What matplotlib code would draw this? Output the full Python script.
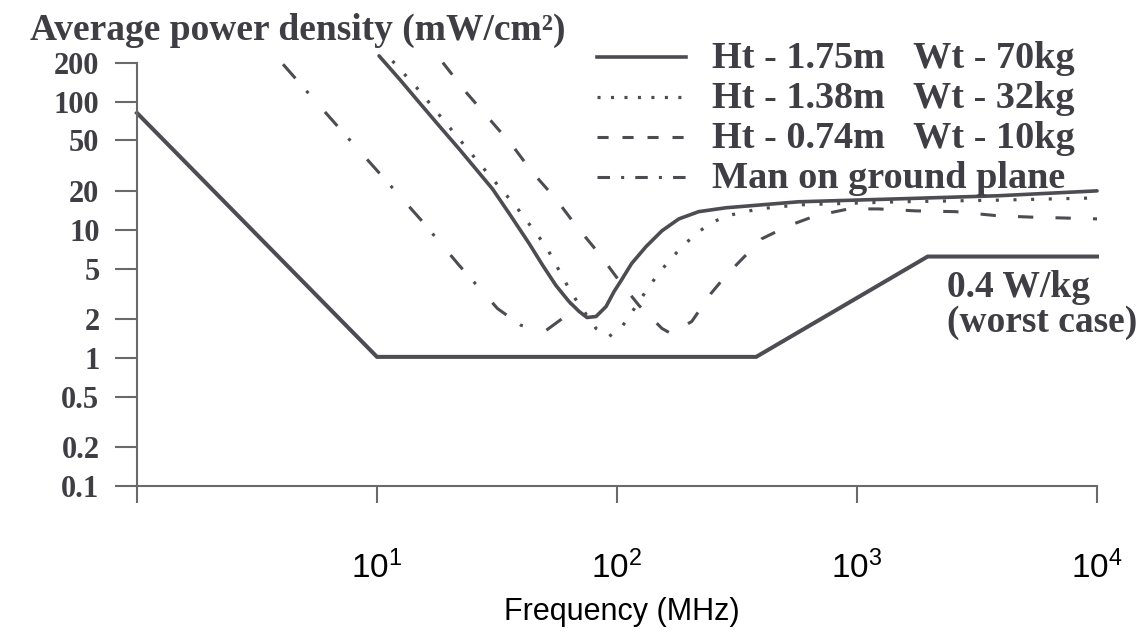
import matplotlib
matplotlib.use('Agg')
import matplotlib.pyplot as plt
from matplotlib.lines import Line2D
from matplotlib.ticker import NullLocator, FixedLocator, FixedFormatter

plt.rcParams['lines.scale_dashes'] = False
plt.rcParams['mathtext.fontset'] = 'custom'
plt.rcParams['mathtext.rm'] = 'Liberation Sans'
plt.rcParams['mathtext.it'] = 'Liberation Sans:italic'
plt.rcParams['mathtext.bf'] = 'Liberation Sans:bold'

# ---------------- data (frequency in MHz, power density in mW/cm^2) -------------
ref_f = [1, 10, 380, 1970, 10000]
ref_v = [82, 1.02, 1.02, 6.2, 6.2]

solid_f = [10.2, 12.4, 15.0, 18.2, 22.0, 30.3, 35.6, 43.1, 49.0, 55.7, 63.1, 69.5,
           75.0, 81.8, 90.0, 97.2, 104, 115, 132, 154, 181, 219, 284, 571, 1490,
           3870, 10000]
solid_v = [229, 151, 99, 64.7, 42.9, 20.9, 13.4, 7.81, 5.3, 3.68, 2.76, 2.31,
           2.07, 2.11, 2.52, 3.30, 4.02, 5.46, 7.40, 9.86, 12.2, 13.9, 14.9, 16.6,
           17.5, 18.5, 20.2]

dotted_f = [11.6, 14.6, 20.0, 27.5, 38.0, 50.7, 63.1, 68.2, 81.8, 92.6, 105, 115,
            136, 150, 168, 190, 219, 248, 287, 389, 571, 1490, 3870, 10000]
dotted_v = [209, 130, 63.7, 31.0, 15.2, 7.4, 3.48, 2.76, 1.70, 1.47, 1.76, 2.26,
            3.61, 4.65, 5.97, 7.67, 9.68, 11.4, 12.9, 14.6, 15.7, 16.6, 17.1, 17.8]

dashed_f = [18.8, 23.5, 29.4, 36.7, 44.4, 55.6, 67.5, 84.2, 102, 123.5, 154, 168,
            205, 246, 284, 401, 519, 672, 922, 1228, 1750, 2569, 3873, 5317, 10000]
dashed_v = [203, 119, 73.5, 45.5, 28.2, 17.5, 10.8, 6.53, 4.02, 2.57, 1.70, 1.55,
            1.93, 3.18, 4.39, 8.53, 10.8, 12.9, 14.6, 14.6, 14.1, 13.9, 12.9, 12.6,
            12.2]

ground_f = [4.06, 5.08, 7.32, 10.6, 15.3, 22.0, 31.8, 39.8, 49.7, 59.1, 64.4]
ground_v = [197, 122, 56.1, 25.8, 11.9, 5.29, 2.43, 1.80, 1.60, 2.03, 2.66]

y_ticks = [0.1, 0.2, 0.5, 1, 2, 5, 10, 20, 50, 100, 200]
y_labels = ['0.1', '0.2', '0.5', '1', '2', '5', '10', '20', '50', '100', '200']
x_ticks = [1, 10, 100, 1000, 10000]
x_labels = ['', r'$\mathrm{10^{1}}$', r'$\mathrm{10^{2}}$', r'$\mathrm{10^{3}}$',
            r'$\mathrm{10^{4}}$']

legend_labels = ['Ht - 1.75m   Wt - 70kg', 'Ht - 1.38m   Wt - 32kg',
                 'Ht - 0.74m   Wt - 10kg', 'Man on ground plane']

# ---------------- styling ----------------
W, H = 1142, 633
LINE = '#4c4c52'
TEXT = '#3e3e44'
AXC = '#6a6a6a'
SERIF = 'Liberation Serif'
SANS = 'Liberation Sans'

DOT = (0, (2.2, 10.5))
DASH = (0, (11, 16))
DASHDOT = (0, (13.5, 12, 2.2, 18))

fig = plt.figure(figsize=(W / 100, H / 100), dpi=100)
ax = fig.add_axes([137 / W, (H - 486) / H, 960 / W, 435 / H])
ax.set_xscale('log')
ax.set_yscale('log')
ax.set_xlim(1, 1e4)
ax.set_ylim(0.1, 250)

ax.plot(ref_f, ref_v, color=LINE, lw=2.9, solid_joinstyle='miter', clip_on=False)
ax.plot(solid_f, solid_v, color=LINE, lw=2.6, solid_capstyle='round', clip_on=False)
ax.plot(dotted_f, dotted_v, color=LINE, lw=2.3, linestyle=DOT, clip_on=False)
ax.plot(dashed_f, dashed_v, color=LINE, lw=2.2, linestyle=DASH, clip_on=False)
ax.plot(ground_f, ground_v, color=LINE, lw=2.2, linestyle=DASHDOT, clip_on=False)

for s in ['top', 'right']:
    ax.spines[s].set_visible(False)
for s in ['left', 'bottom']:
    ax.spines[s].set_color(AXC)
    ax.spines[s].set_linewidth(1.5)
ax.spines['left'].set_bounds(0.1, 200)
ax.spines['bottom'].set_bounds(1, 1e4)

ax.yaxis.set_major_locator(FixedLocator(y_ticks))
ax.yaxis.set_major_formatter(FixedFormatter(y_labels))
ax.yaxis.set_minor_locator(NullLocator())
ax.xaxis.set_major_locator(FixedLocator(x_ticks))
ax.xaxis.set_major_formatter(FixedFormatter(x_labels))
ax.xaxis.set_minor_locator(NullLocator())

ax.tick_params(axis='y', direction='out', length=16, width=1.5, color=AXC,
               pad=11, labelsize=22, labelcolor=TEXT)
ax.tick_params(axis='x', direction='out', length=12.5, width=1.5, color=AXC,
               pad=34, labelsize=24, labelcolor='black')
for lab in ax.get_yticklabels():
    lab.set_fontfamily(SERIF)
    lab.set_fontweight('bold')

def P(x, y):
    return (x / W, 1 - y / H)

# title & x label
fig.text(*P(30, 40), 'Average power density (mW/cm\u00b2)', family=SERIF,
         weight='bold', fontsize=27, color=TEXT, ha='left', va='baseline')
fig.text(*P(622, 612), 'Frequency (MHz)', family=SANS, fontsize=22,
         color='black', ha='center', va='center')

# legend
rows = [57, 97, 137, 177]
styles = [dict(lw=2.6, linestyle='-'),
          dict(lw=2.3, linestyle=(0, (2.2, 7.5))),
          dict(lw=2.2, linestyle=(0, (8, 10))),
          dict(lw=2.2, linestyle=(0, (9, 8, 2.2, 8)))]
for y, st, lab in zip(rows, styles, legend_labels):
    x0, y0 = P(597, y)
    x1, _ = P(686, y)
    fig.add_artist(Line2D([x0, x1], [y0, y0], transform=fig.transFigure,
                          color=LINE, **st))
    fig.text(*P(712, y + 11), lab, family=SERIF, weight='bold', fontsize=27.5,
             color=TEXT, ha='left', va='baseline')

# reference annotation
fig.text(*P(947, 297), '0.4 W/kg', family=SERIF, weight='bold', fontsize=27,
         color=TEXT, ha='left', va='baseline')
fig.text(*P(947, 332), '(worst case)', family=SERIF, weight='bold', fontsize=27,
         color=TEXT, ha='left', va='baseline')

fig.savefig('out.png', dpi=100)
